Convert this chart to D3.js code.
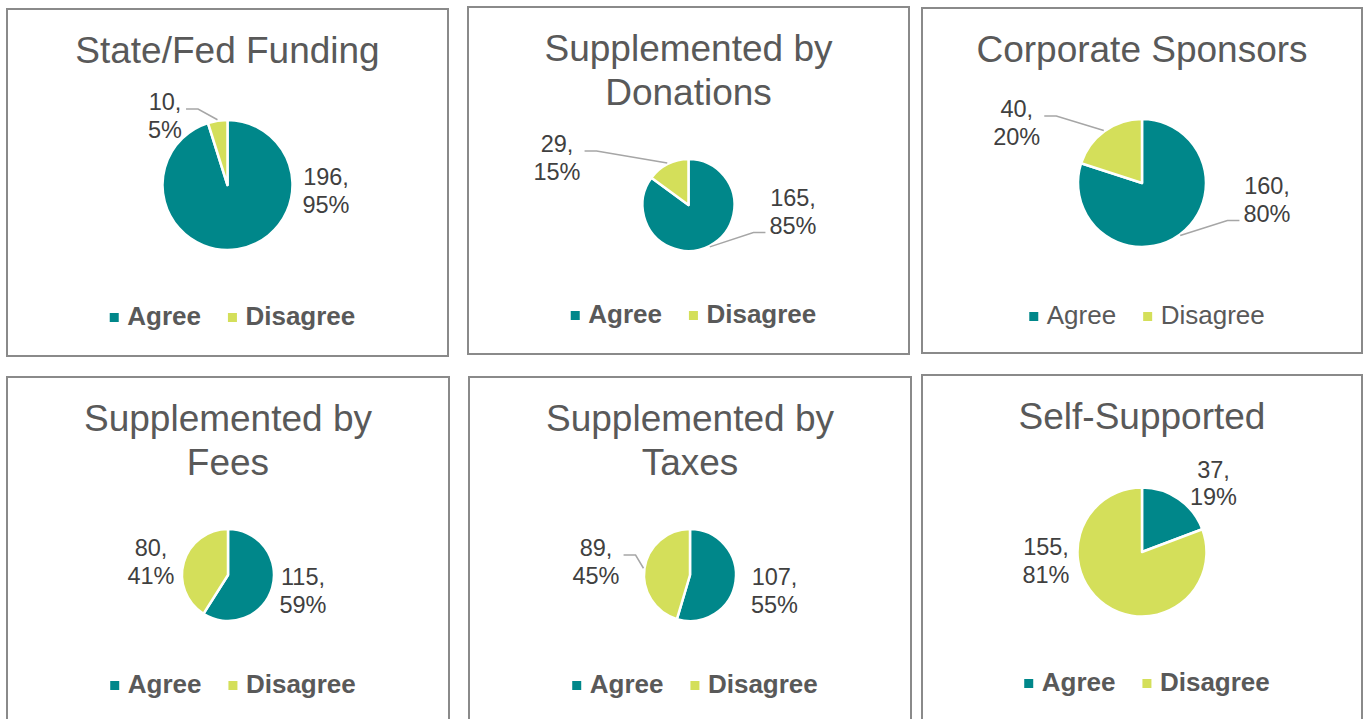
<!DOCTYPE html>
<html>
<head>
<meta charset="utf-8">
<script src="https://cdn.jsdelivr.net/npm/d3@7"></script>
<style>
  body { margin: 0; background: #fff; }
  svg { display: block; font-family: "Liberation Sans", Arial, sans-serif; }
</style>
</head>
<body>
<svg id="chart" width="1366" height="719"></svg>
<script>
// Six small pie charts: Agree / Disagree on each funding source.

const chartTitles = [
  ["State/Fed Funding"],
  ["Supplemented by", "Donations"],
  ["Corporate Sponsors"],
  ["Supplemented by", "Fees"],
  ["Supplemented by", "Taxes"],
  ["Self-Supported"],
];
const categories = ["Agree", "Disagree"];
const agreeCounts = [196, 165, 160, 115, 107, 37];
const disagreeCounts = [10, 29, 40, 80, 89, 155];

const colors = ["#00878a", "#d4df5a"];
const titleColor = "#595959";
const labelColor = "#404040";

// panel boxes, pie size and label placement (relative to pie centre)
const layout = [
  { x: 7, y: 9, w: 441, h: 347, cy: 176, r: 65, bold: true,
    labels: [{ dx: 98.5, dy: 0 }, { dx: -62.5, dy: -75, leader: true }] },
  { x: 468, y: 7, w: 441, h: 347, cy: 198, r: 46, bold: true,
    labels: [{ dx: 104.5, dy: 1, leader: true }, { dx: -131.5, dy: -53, leader: true }] },
  { x: 922, y: 8, w: 440, h: 345, cy: 175, r: 64, bold: false,
    labels: [{ dx: 125, dy: 11, leader: true }, { dx: -125.3, dy: -66, leader: true }] },
  { x: 7, y: 377, w: 442, h: 347, cy: 198, r: 46, bold: true,
    labels: [{ dx: 75, dy: 10 }, { dx: -77, dy: -19 }] },
  { x: 469, y: 377, w: 442, h: 347, cy: 198, r: 46, bold: true,
    labels: [{ dx: 84.5, dy: 10 }, { dx: -94, dy: -19, leader: true }] },
  { x: 922, y: 375, w: 440, h: 347, cy: 177, r: 64.5, bold: true,
    labels: [{ dx: 71.5, dy: -74.4 }, { dx: -96, dy: 3.3 }] },
];

const svg = d3.select("#chart");
const pie = d3.pie().sort(null).value((d) => d.value);
const pct = d3.format(".0%");

const drawPanel = (index) => {
  const box = layout[index];
  const values = [
    { name: categories[0], value: agreeCounts[index] },
    { name: categories[1], value: disagreeCounts[index] },
  ];
  const total = d3.sum(values, (d) => d.value);
  const cx = box.w / 2;

  const g = svg
    .append("g")
    .attr("transform", "translate(" + box.x + "," + box.y + ")");

  g.append("rect")
    .attr("width", box.w)
    .attr("height", box.h)
    .attr("fill", "#fff")
    .attr("stroke", "#8a8a8a")
    .attr("stroke-width", 2);

  g.append("text")
    .attr("text-anchor", "middle")
    .attr("font-size", 37)
    .attr("fill", titleColor)
    .selectAll("tspan")
    .data(chartTitles[index])
    .enter()
    .append("tspan")
    .attr("x", cx)
    .attr("y", (d, i) => 54 + i * 43.5)
    .text((d) => d);

  const arcs = pie(values);
  const arc = d3.arc().innerRadius(0).outerRadius(box.r);
  const edge = d3.arc().innerRadius(box.r + 1).outerRadius(box.r + 1);

  const pieG = g
    .append("g")
    .attr("transform", "translate(" + cx + "," + box.cy + ")");

  pieG
    .selectAll("path")
    .data(arcs)
    .enter()
    .append("path")
    .attr("d", arc)
    .attr("fill", (d, i) => colors[i])
    .attr("stroke", "#fff")
    .attr("stroke-width", 2.5)
    .attr("stroke-linejoin", "round");

  arcs.forEach((d, i) => {
    const pos = box.labels[i];
    const label = pieG
      .append("text")
      .attr("text-anchor", "middle")
      .attr("font-size", 23.5)
      .attr("fill", labelColor);
    const lines = [d.data.value + ",", pct(d.data.value / total)];
    lines.forEach((line, j) => {
      label
        .append("tspan")
        .attr("x", pos.dx)
        .attr("y", pos.dy + j * 27.5)
        .text(line);
    });

    if (pos.leader) {
      const half = label.node().getBBox().width / 2;
      const [ex, ey] = edge.centroid(d);
      const side = pos.dx > 0 ? -1 : 1;
      const mid = pos.dy + 27.5 / 2;
      const ly = ey < mid ? pos.dy - 1 : pos.dy + 27.5 - 1;
      const sx = pos.dx + side * (half + 4);
      pieG
        .append("polyline")
        .attr("points", [[sx, ly], [sx + side * 12, ly], [ex, ey]].join(" "))
        .attr("fill", "none")
        .attr("stroke", "#a6a6a6")
        .attr("stroke-width", 1.5);
    }
  });

  // legend
  const legend = g.append("g");
  let offset = 0;
  categories.forEach((name, i) => {
    legend
      .append("rect")
      .attr("x", offset)
      .attr("y", 316 - 12)
      .attr("width", 9)
      .attr("height", 9)
      .attr("fill", colors[i]);
    const t = legend
      .append("text")
      .attr("x", offset + 17.5)
      .attr("y", 316)
      .attr("font-size", 26)
      .attr("font-weight", box.bold ? "bold" : "normal")
      .attr("fill", titleColor)
      .text(name);
    offset += 17.5 + t.node().getComputedTextLength() + 27;
  });
  const legendWidth = offset - 27;
  legend.attr("transform", "translate(" + (cx + 5 - legendWidth / 2) + ",0)");
};

chartTitles.forEach((t, i) => drawPanel(i));
</script>
</body>
</html>
